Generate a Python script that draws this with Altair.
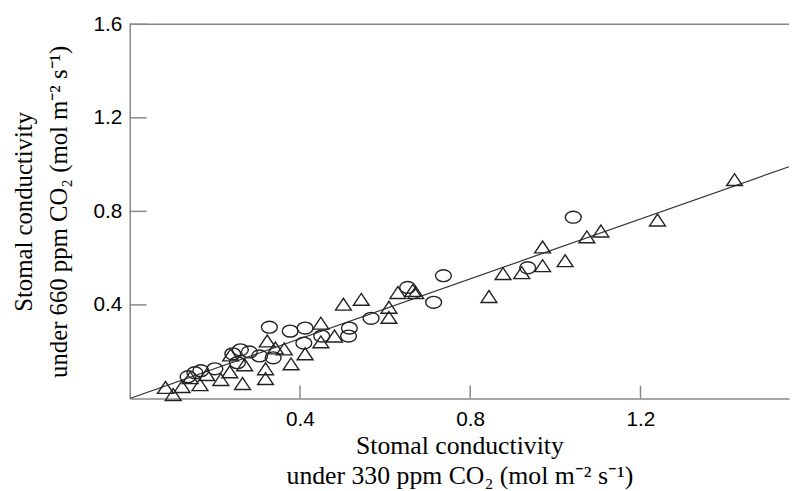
import altair as alt
import pandas as pd

# Triangles
tri_x = [0.084, 0.102, 0.123, 0.142, 0.165, 0.181, 0.214, 0.235, 0.237, 0.265,
         0.270, 0.319, 0.319, 0.323, 0.342, 0.363, 0.379, 0.412, 0.449, 0.449,
         0.481, 0.502, 0.544, 0.609, 0.609, 0.630, 0.665, 0.672, 0.844, 0.877,
         0.921, 0.970, 0.970, 1.023, 1.074, 1.107, 1.240, 1.421]
tri_y = [0.047, 0.017, 0.051, 0.089, 0.059, 0.102, 0.081, 0.114, 0.186, 0.064,
         0.144, 0.085, 0.127, 0.246, 0.216, 0.212, 0.148, 0.191, 0.322, 0.242,
         0.267, 0.403, 0.424, 0.390, 0.347, 0.453, 0.462, 0.453, 0.436, 0.534,
         0.538, 0.568, 0.648, 0.589, 0.691, 0.716, 0.763, 0.936]

# Circles
circ_x = [0.137, 0.153, 0.167, 0.200, 0.242, 0.260, 0.281, 0.253, 0.305, 0.337,
          0.328, 0.377, 0.412, 0.409, 0.451, 0.514, 0.516, 0.567, 0.653, 0.714,
          0.737, 0.935, 1.042]
circ_y = [0.093, 0.110, 0.119, 0.127, 0.191, 0.208, 0.199, 0.153, 0.182, 0.174,
          0.305, 0.288, 0.301, 0.237, 0.267, 0.267, 0.301, 0.343, 0.475, 0.411,
          0.525, 0.559, 0.775]

# Fitted line
line_x = [0.0, 1.549]
line_y = [0.0, 0.991]

x_ticks = [0.4, 0.8, 1.2]
y_ticks = [0.4, 0.8, 1.2, 1.6]
x_title = ["Stomal conductivity", "under 330 ppm CO\u2082 (mol m\u207b\u00b2 s\u207b\u00b9)"]
y_title = ["Stomal conductivity", "under 660 ppm CO\u2082 (mol m\u207b\u00b2 s\u207b\u00b9)"]

X_DOMAIN = [0, 1.549]
Y_DOMAIN = [0, 1.6]

TRI = "M -1 0.75 L 1 0.75 L 0 -0.75 Z"
ELL = "M -1 0 A 1 0.75 0 1 0 1 0 A 1 0.75 0 1 0 -1 0 Z"

common = dict(labelFont="Liberation Sans", labelFontSize=21, labelColor="black",
              titleFont="Liberation Serif", titleFontWeight="normal",
              titleColor="black", domainColor="#888888", domainWidth=1.5,
              ticks=False, grid=False)

xs = alt.Scale(domain=X_DOMAIN, nice=False, zero=False)
ys = alt.Scale(domain=Y_DOMAIN, nice=False, zero=False)


def X(field="x"):
    return alt.X(f"{field}:Q", scale=xs,
                 axis=alt.Axis(values=x_ticks, title=x_title, labelPadding=10,
                               titlePadding=4, titleFontSize=26, titleLineHeight=30,
                               **common))


def Y(field="y"):
    return alt.Y(f"{field}:Q", scale=ys,
                 axis=alt.Axis(values=y_ticks, title=y_title, labelPadding=8,
                               titlePadding=22, titleFontSize=25, titleLineHeight=35,
                               **common))


tri_df = pd.DataFrame({"x": tri_x, "y": tri_y})
circ_df = pd.DataFrame({"x": circ_x, "y": circ_y})
line_df = pd.DataFrame({"x": line_x, "y": line_y})

tri = alt.Chart(tri_df).mark_point(shape=TRI, size=256, filled=False, stroke="#222222",
                                   strokeWidth=1.4, opacity=1).encode(x=X(), y=Y())
circ = alt.Chart(circ_df).mark_point(shape=ELL, size=256, filled=False, stroke="#222222",
                                     strokeWidth=1.4, opacity=1).encode(x=X(), y=Y())
line = alt.Chart(line_df).mark_line(color="#333333", strokeWidth=1.2, clip=True).encode(x=X(), y=Y())

top = alt.Chart(pd.DataFrame({"y": [Y_DOMAIN[1]]})).mark_rule(color="#888888", strokeWidth=1.5).encode(y=Y())
ytk = alt.Chart(pd.DataFrame({"y": y_ticks})).mark_rule(color="#888888", strokeWidth=1.5).encode(
    y=Y(), x=alt.value(0), x2=alt.value(17))
xtk = alt.Chart(pd.DataFrame({"x": x_ticks})).mark_rule(color="#888888", strokeWidth=1.5).encode(
    x=X(), y=alt.value(378), y2=alt.value(365))

chart = alt.layer(top, ytk, xtk, line, circ, tri).properties(
    width=666, height=378,
    autosize=alt.AutoSizeParams(type="none"),
    padding={"left": 123, "top": 14, "right": 2, "bottom": 90},
    background="white",
).configure_view(stroke=None)

chart.save("out.html", embed_options={"renderer": "svg", "actions": False})
